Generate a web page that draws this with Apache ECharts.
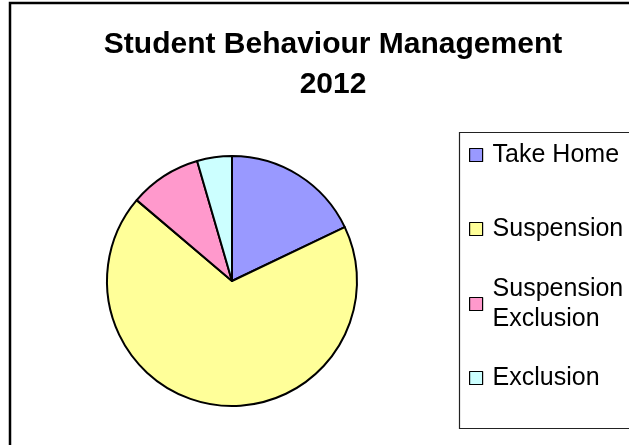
<!DOCTYPE html>
<html>
<head>
<meta charset="utf-8">
<script src="https://cdn.jsdelivr.net/npm/echarts@6/dist/echarts.min.js"></script>
<style>
  html, body { margin: 0; padding: 0; background: #fff; overflow: hidden; }
  #chart { width: 629px; height: 445px; }
</style>
</head>
<body>
<div id="chart"></div>
<script>
const names = ['Take Home', 'Suspension', 'Suspension Exclusion', 'Exclusion']
const values = [17.9, 68.3, 9.3, 4.5]
const colors = ['#9999ff', '#ffff99', '#ff99cc', '#ccffff']

const chart = echarts.init(document.getElementById('chart'), null, { renderer: 'canvas' })
const font = '"Liberation Sans", Arial, sans-serif'

// Excel-style legend: each entry gets its own slot so the two-line one keeps its marker on line one
const legendTops = [140, 214, 259, 363]
const legends = names.map((n, i) => {
  const twoLine = i === 2
  return {
    orient: 'vertical', left: 469, top: legendTops[i], padding: 0,
    data: [n], selectedMode: false,
    icon: 'rect', itemWidth: 13, itemHeight: 13,
    itemStyle: { borderColor: '#000', borderWidth: 1.2 },
    formatter: name => twoLine ? name.replace(' ', '\n') : name,
    textStyle: {
      fontFamily: font, fontSize: 25, color: '#000', lineHeight: 30,
      padding: twoLine ? [30, 0, 0, 5] : [0, 0, 0, 5],
    },
  }
})

chart.setOption({
  animation: false,
  title: {
    text: 'Student Behaviour Management\n2012',
    left: 328, top: 20, textAlign: 'center',
    textStyle: { fontFamily: font, fontSize: 30, fontWeight: 'bold', color: '#000', lineHeight: 40 },
  },
  legend: legends,
  graphic: [
    { type: 'rect', shape: { x: 10, y: 3, width: 660, height: 470 }, style: { fill: 'none', stroke: '#000', lineWidth: 2.5 }, silent: true },
    { type: 'rect', shape: { x: 459.5, y: 132.5, width: 220, height: 296 }, style: { fill: 'none', stroke: '#222', lineWidth: 1.2 }, silent: true },
  ],
  series: [{
    type: 'pie',
    center: [232, 281], radius: 125,
    startAngle: 90, clockwise: true,
    label: { show: false }, labelLine: { show: false },
    emphasis: { disabled: true },
    itemStyle: { borderColor: '#000', borderWidth: 2 },
    data: names.map((n, i) => ({ name: n, value: values[i], itemStyle: { color: colors[i] } })),
  }],
})
</script>
</body>
</html>
